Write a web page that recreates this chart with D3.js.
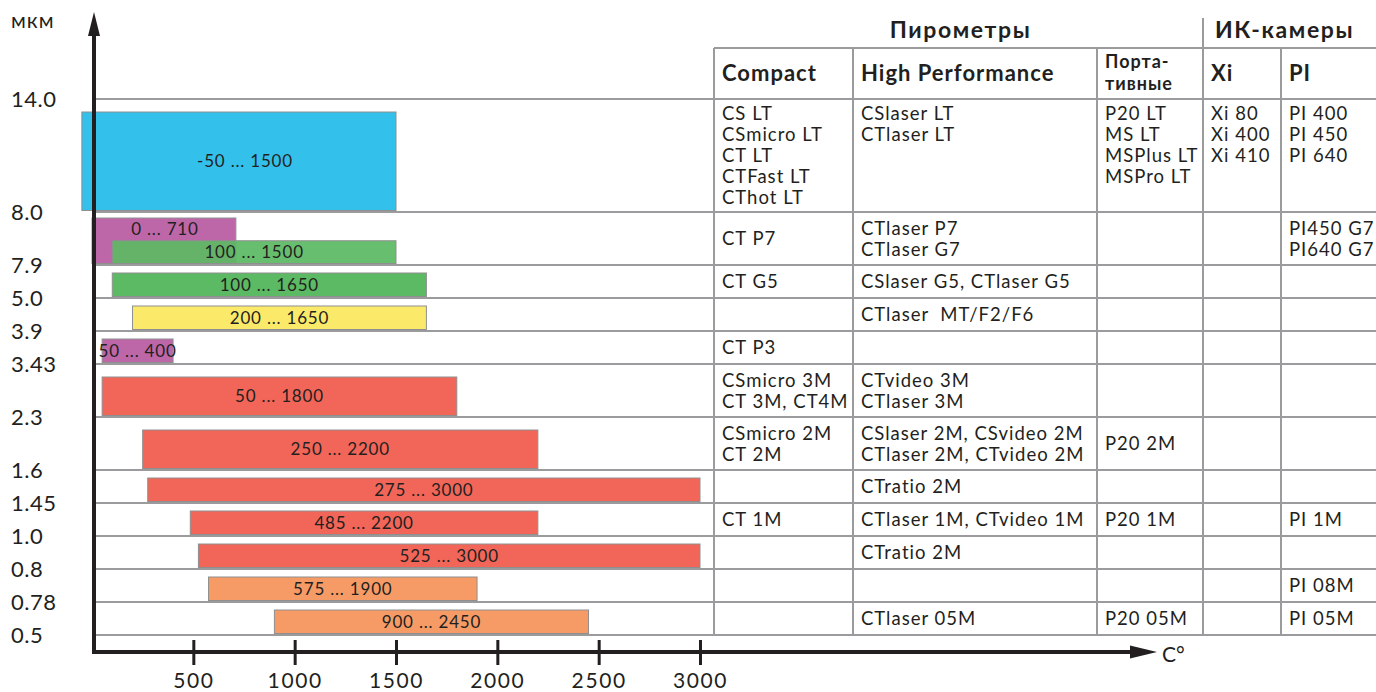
<!DOCTYPE html>
<html><head><meta charset="utf-8">
<script src="https://cdn.jsdelivr.net/npm/d3@7"></script>
<style>
html,body{margin:0;padding:0;background:#fff;}
svg{display:block;font-family:Lato,"Noto Sans",sans-serif;}
</style></head>
<body><svg id="chart" width="1376" height="692"></svg>
<script>
// ---------- data ----------
const wavelengths = ["14.0","8.0","7.9","5.0","3.9","3.43","2.3","1.6","1.45","1.0","0.8","0.78","0.5"];
const xTicks = [500,1000,1500,2000,2500,3000];

const barRow  = [0, 1, 1, 2, 3, 4, 5, 6, 7, 8, 9, 10, 11];
const barMin  = [-50, 0, 100, 100, 200, 50, 50, 250, 275, 485, 525, 575, 900];
const barMax  = [1500, 710, 1500, 1650, 1650, 400, 1800, 2200, 3000, 2200, 3000, 1900, 2450];
const barKind = ["blue","purple","green","green","yellow","purple","red","red","red","red","red","orange","orange"];

const groupHeaders = ["Пирометры","ИК-камеры"];
const colHeaders = ["Compact","High Performance","Порта-\nтивные","Xi","PI"];
const compact = ["CS LT\nCSmicro LT\nCT LT\nCTFast LT\nCThot LT","CT P7","CT G5","","CT P3","CSmicro 3M\nCT 3M, CT4M","CSmicro 2M\nCT 2M","","CT 1M","","",""];
const highPerf = ["CSlaser LT\nCTlaser LT","CTlaser P7\nCTlaser G7","CSlaser G5, CTlaser G5","CTlaser  MT/F2/F6","","CTvideo 3M\nCTlaser 3M","CSlaser 2M, CSvideo 2M\nCTlaser 2M, CTvideo 2M","CTratio 2M","CTlaser 1M, CTvideo 1M","CTratio 2M","","CTlaser 05M"];
const portable = ["P20 LT\nMS LT\nMSPlus LT\nMSPro LT","","","","","","P20 2M","","P20 1M","","","P20 05M"];
const xiCams = ["Xi 80\nXi 400\nXi 410","","","","","","","","","","",""];
const piCams = ["PI 400\nPI 450\nPI 640","PI450 G7\nPI640 G7","","","","","","","PI 1M","","PI 08M","PI 05M"];

// ---------- style ----------
const colors = {blue:"#33c0eb",purple:"#bd67a8",green:"#5cb964",yellow:"#fbe96a",red:"#f16658",orange:"#f69b66"};
const ink = "#231f20", grid = "#9b9b9d";
const W = 1376;
const colX = [714, 853, 1097, 1203, 1281];
const tableTop = 48, bodyTop = 99, bodyBottom = 635;
const lineH = 21;

const svg = d3.select("#chart");
const columns = [compact, highPerf, portable, xiCams, piCams];
const nRows = compact.length;
const lineCount = s => s === "" ? 0 : s.split("\n").length;
const rowLines = d3.range(nRows).map(i => d3.max(columns, c => lineCount(c[i])));
const rowUnits = rowLines.map(l => l + 0.65);
const cum = [0]; rowUnits.forEach(u => cum.push(cum[cum.length-1] + u));
const yU = d3.scaleLinear().domain([0, cum[cum.length-1]]).range([bodyTop, bodyBottom]);
const rowTop = i => yU(cum[i]), rowBot = i => yU(cum[i+1]);

const x = d3.scaleLinear().domain([0, 3000]).range([92, 700]);

// ---------- grid lines ----------
svg.append("g").selectAll("line").data(d3.range(nRows+1)).join("line")
  .attr("x1", 95).attr("x2", W)
  .attr("y1", i => yU(cum[i])).attr("y2", i => yU(cum[i]))
  .attr("stroke", grid).attr("stroke-width", 2);
svg.append("line").attr("x1", colX[0]).attr("x2", W).attr("y1", tableTop).attr("y2", tableTop)
  .attr("stroke", grid).attr("stroke-width", 2);
svg.append("g").selectAll("line").data(colX).join("line")
  .attr("x1", d => d).attr("x2", d => d)
  .attr("y1", (d,i) => i === 3 ? 18 : tableTop).attr("y2", bodyBottom)
  .attr("stroke", grid).attr("stroke-width", 2);

// ---------- bars ----------
const bars = barRow.map((r, i) => ({r, i, lo: barMin[i], hi: barMax[i], kind: barKind[i]}));
d3.group(bars, d => d.r).forEach(list => {
  const r = list[0].r, n = list.length;
  const t = rowTop(r), b = rowBot(r) - 1.5;
  if (n === 1) {
    list[0].top = t + (rowLines[r] > 1 ? 13 : 8);
    list[0].bottom = b;
  } else {
    const t0 = t + 6, step = (b - t0) / n;
    list.forEach((d, k) => { d.top = t0 + k*step; d.bottom = b; });
  }
  list.forEach((d, k) => {
    d.labelY = k < n-1 ? (d.top + list[k+1].top)/2 : (d.top + d.bottom)/2;
  });
});
const bg = svg.append("g");
bg.selectAll("rect").data(bars).join("rect")
  .attr("x", d => x(d.lo)).attr("width", d => x(d.hi) - x(d.lo))
  .attr("y", d => d.top).attr("height", d => d.bottom - d.top)
  .attr("fill", d => colors[d.kind])
  .attr("fill-opacity", (d) => (d.r === 1 && d.kind === "green") ? 0.93 : 1)
  .attr("stroke", "#8f8f8f").attr("stroke-width", 1);
bg.selectAll("text").data(bars).join("text")
  .attr("x", d => (Math.max(x(d.lo), 94) + x(d.hi))/2)
  .attr("y", d => d.labelY).attr("dy", "0.36em")
  .attr("text-anchor", "middle").attr("font-size", 17).attr("letter-spacing", 0.8)
  .attr("fill", ink)
  .text(d => `${d.lo} ... ${d.hi}`);

// ---------- table text ----------
const tg = svg.append("g").attr("fill", ink);
tg.selectAll("text.grp").data(groupHeaders).join("text").attr("class","grp")
  .attr("x", (d,i) => i === 0 ? (colX[0]+colX[3])/2 + 2 : (colX[3] + W)/2 - 5)
  .attr("y", 30).attr("dy", "0.36em").attr("text-anchor", "middle")
  .attr("font-size", 23).attr("letter-spacing", 1.6).attr("font-weight", 700).text(d => d);
colHeaders.forEach((h, c) => {
  const lines = h.split("\n");
  const t = tg.append("text").attr("x", colX[c] + 8)
    .attr("font-weight", 700).attr("font-size", lines.length > 1 ? 18 : 22)
    .attr("letter-spacing", 1);
  lines.forEach((ln, k) => {
    t.append("tspan").attr("x", colX[c] + 8)
      .attr("y", lines.length > 1 ? 62 + k*22 : 73).attr("dy", "0.36em").text(ln);
  });
});
columns.forEach((col, c) => {
  col.forEach((cell, r) => {
    if (!cell) return;
    const lines = cell.split("\n");
    const t = rowTop(r), b = rowBot(r);
    const first = r === 0 ? t + 14 : (t + b)/2 - (lines.length - 1) * lineH / 2;
    const txt = tg.append("text").attr("font-size", 18.5).attr("letter-spacing", 1);
    lines.forEach((ln, k) => {
      txt.append("tspan").attr("x", colX[c] + 8).attr("y", first + k*lineH)
        .attr("dy", "0.36em").attr("xml:space","preserve").text(ln);
    });
  });
});

// ---------- axes ----------
const ax = svg.append("g").attr("transform", "translate(0,652)")
  .call(d3.axisBottom(x).tickValues(xTicks).tickFormat(d3.format("d")));
ax.select(".domain").remove();
ax.selectAll(".tick line").attr("y1", -12).attr("y2", 13).attr("stroke", ink).attr("stroke-width", 3);
ax.selectAll(".tick text").attr("y", 28).attr("dy", "0.36em")
  .attr("font-size", 21).attr("letter-spacing", 1.6).attr("font-family", "Lato").attr("fill", ink);

svg.append("line").attr("x1", 92).attr("x2", 1135).attr("y1", 652).attr("y2", 652)
  .attr("stroke", ink).attr("stroke-width", 4);
svg.append("path").attr("d", "M1130,645.5 L1157,652 L1130,658.5 Z").attr("fill", ink);
svg.append("line").attr("x1", 94).attr("x2", 94).attr("y1", 654).attr("y2", 30)
  .attr("stroke", ink).attr("stroke-width", 4);
svg.append("path").attr("d", "M88,36 L94,12 L100,36 Z").attr("fill", ink);

svg.append("text").attr("x", 1162).attr("y", 654).attr("dy", "0.36em")
  .attr("font-size", 21).attr("fill", ink).text("C°");
svg.append("text").attr("x", 11).attr("y", 20).attr("dy", "0.36em")
  .attr("font-size", 21).attr("letter-spacing", 1).attr("fill", ink).text("мкм");

svg.append("g").selectAll("text").data(wavelengths).join("text")
  .attr("x", 11).attr("y", (d,i) => yU(cum[i])).attr("dy", "0.36em")
  .attr("font-size", 22).attr("letter-spacing", 0.5).attr("fill", ink).text(d => d);
</script></body></html>
